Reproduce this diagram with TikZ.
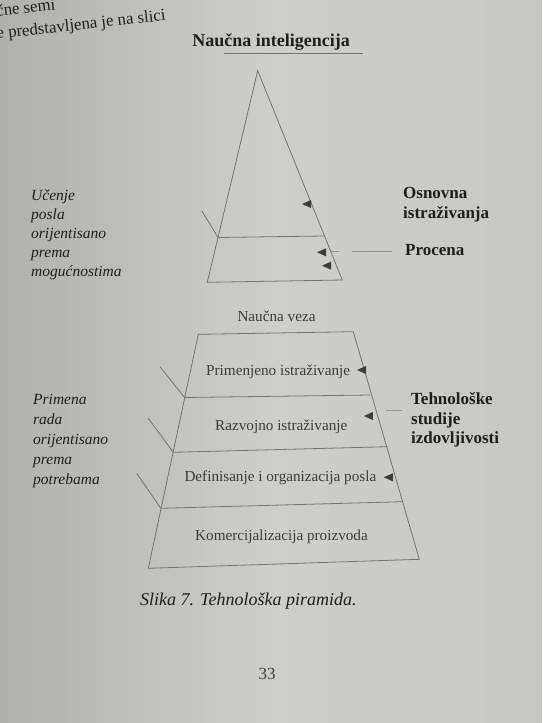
\documentclass[tikz,border=0pt]{standalone}
\usepackage{fontspec}
\setmainfont{Liberation Serif}
\definecolor{pageL}{RGB}{176,176,172}
\definecolor{pageM}{RGB}{206,206,202}
\definecolor{pageR}{RGB}{199,199,195}
\definecolor{ink}{RGB}{30,30,30}
\definecolor{inkg}{RGB}{60,60,60}
\definecolor{linec}{RGB}{115,115,115}
\definecolor{faint}{RGB}{150,150,150}
\begin{document}
\begin{tikzpicture}[x=1pt,y=-1pt,
  ln/.style={draw=linec,line width=0.8pt},
  fl/.style={draw=faint,line width=0.7pt},
  lbl/.style={inner sep=0pt,anchor=base west,text=ink,font=\fontsize{17}{19}\selectfont\bfseries},
  itl/.style={inner sep=0pt,anchor=base west,text=ink,font=\fontsize{15.5}{19}\selectfont\itshape},
  inl/.style={inner sep=0pt,anchor=base west,text=inkg,font=\fontsize{15.2}{18}\selectfont},
  frag/.style={inner sep=0pt,anchor=base west,rotate=6.3,text=ink,font=\fontsize{16.8}{18}\selectfont},
  tri/.pic={\fill[inkg] (-4.5,0) -- (4.5,-4) -- (4.5,4) -- cycle;}]
\useasboundingbox (0,0) rectangle (542,723);
\shade[left color=pageL,right color=pageR,middle color=pageM] (0,0) rectangle (542,723);

% top fragment of page text
\node[frag] (frag1) at (-8,17) {ične semi};
\node[frag] (frag2) at (-3,39) {e predstavljena je na slici};

% title
\node[lbl,anchor=base,font=\fontsize{18}{20}\selectfont\bfseries] (title) at (271,46) {Naučna inteligencija};
\coordinate (u1) at (224,53);
\coordinate (u2) at (363,53);
\draw[ln,line width=1pt] (u1) -- (u2);

% upper pyramid
\coordinate (A) at (257.7,70.7);
\coordinate (BL) at (207.3,282.3);
\coordinate (BR) at (342.3,280);
\coordinate (ML) at (218,237.5);
\coordinate (MR) at (323.5,236);
\coordinate (T0) at (201.7,210.7);
\draw[ln] (A) -- (BL) -- (BR) -- cycle;
\draw[ln] (ML) -- (MR);
\draw[ln] (T0) -- (ML);
\pic at (306.5,204) {tri};
\pic at (321.5,252.3) {tri};
\pic at (326.5,265.7) {tri};

% upper labels
\node[itl] (u1l) at (31,200) {Učenje};
\node[itl] (u2l) at (31,219) {posla};
\node[itl] (u3l) at (31,238) {orijentisano};
\node[itl] (u4l) at (31,257) {prema};
\node[itl] (u5l) at (31,276) {mogućnostima};
\node[lbl] (osn) at (403,198) {Osnovna};
\node[lbl] (ist) at (403,218) {istraživanja};
\node[lbl] (proc) at (405,255) {Procena};
\coordinate (pa) at (331,251.5);
\coordinate (pb) at (392,251.5);
\draw[fl,dash pattern=on 40pt off 13pt on 8pt] (pb) -- (pa);

% lower pyramid
\coordinate (L0) at (198.3,334.3);
\coordinate (R0) at (353.3,331.7);
\coordinate (L1) at (184.6,397.5);
\coordinate (R1) at (370,395);
\coordinate (L2) at (173.3,452.3);
\coordinate (R2) at (387.5,446.7);
\coordinate (L3) at (160.8,508.3);
\coordinate (R3) at (402.5,501.7);
\coordinate (L4) at (148.3,568.3);
\coordinate (R4) at (419.3,559.3);
\draw[ln] (L0) -- (R0) -- (R4) -- (L4) -- cycle;
\draw[ln] (L1) -- (R1);
\draw[ln] (L2) -- (R2);
\draw[ln] (L3) -- (R3);
\coordinate (k1) at (160,366.7);
\coordinate (k2) at (148.3,418.3);
\coordinate (k3) at (136.7,473.3);
\draw[ln] (k1) -- (L1);
\draw[ln] (k2) -- (L2);
\draw[ln] (k3) -- (L3);
\pic at (361.5,370) {tri};
\pic at (368.3,416) {tri};
\pic at (388.3,477.3) {tri};

\node[inl] (nv) at (237.3,321) {Naučna veza};
\node[inl] (pi) at (206,375) {Primenjeno istraživanje};
\node[inl] (ri) at (215,430) {Razvojno istraživanje};
\node[inl] (di) at (184.3,481) {Definisanje i organizacija posla};
\node[inl] (kp) at (195,540) {Komercijalizacija proizvoda};

% lower labels
\node[itl] (l1l) at (33,404) {Primena};
\node[itl] (l2l) at (33,424) {rada};
\node[itl] (l3l) at (33,444) {orijentisano};
\node[itl] (l4l) at (33,464) {prema};
\node[itl] (l5l) at (33,484) {potrebama};
\node[lbl] (teh) at (411,404) {Tehnološke};
\node[lbl] (stu) at (411,424) {studije};
\node[lbl] (izd) at (411,443) {izdovljivosti};
\coordinate (ta) at (386,410);
\coordinate (tb) at (402,410);
\draw[fl] (tb) -- (ta);

% caption and page number
\node[inner sep=0pt,anchor=base west,text=ink,font=\fontsize{18}{20}\selectfont\itshape] (cap) at (140,605) {Slika 7. Tehnološka piramida.};
\node[inner sep=0pt,anchor=base,text=inkg,font=\fontsize{17}{19}\selectfont] (pg) at (267,679) {33};
\end{tikzpicture}
\end{document}
